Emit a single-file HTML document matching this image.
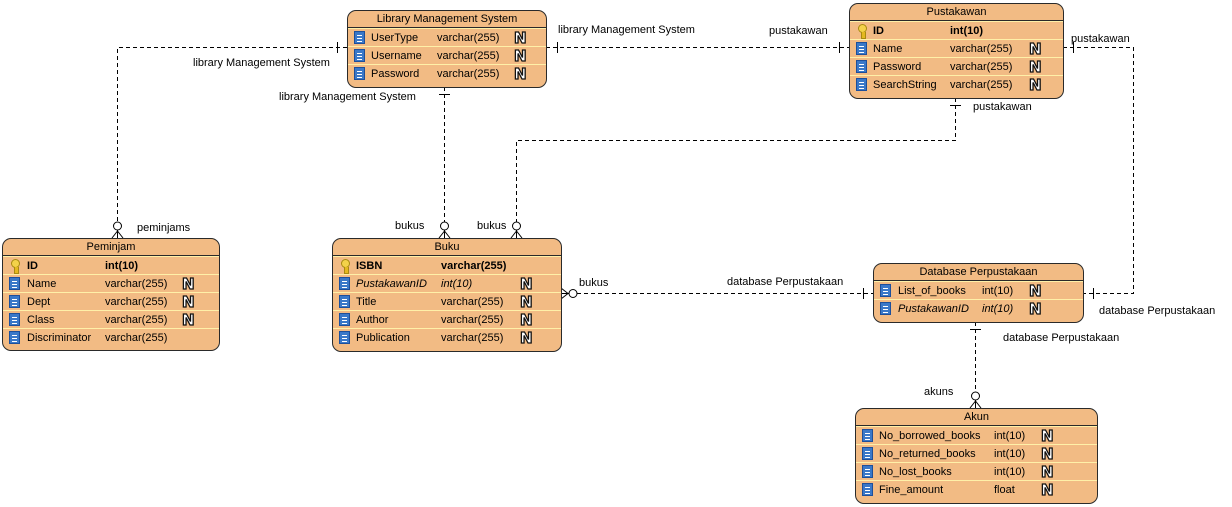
<!DOCTYPE html>
<html><head><meta charset="utf-8">
<style>
body{margin:0;width:1232px;height:507px;background:#fff;position:relative;overflow:hidden;font-family:"Liberation Sans",sans-serif;font-size:11px;color:#000}
.e{position:absolute;background:#F2BB84;border:1px solid #2a2a2a;border-radius:9px;box-sizing:border-box;overflow:hidden}
.h{height:16px;line-height:16px;text-align:center;border-bottom:1px solid #2a2a2a;font-size:11px}
.r{position:relative;height:18px;line-height:18px;border-top:1px solid #FFF0A8;box-sizing:border-box}
.r:first-of-type{border-top:none}
.r span{position:absolute;top:0;white-space:nowrap}
.ic{position:absolute;left:6px;top:2px;width:11px;height:13px;background:#3a78c8;border:1px solid #1e4f9a;box-sizing:border-box}
.ic::after{content:"";position:absolute;left:2px;right:2px;top:3px;height:7px;background:repeating-linear-gradient(#fff 0 1px,transparent 1px 3px)}
.key{position:absolute;left:8px;top:2px;width:7px;height:7px;border-radius:50%;background:#f3d24a;border:1px solid #a88a10}
.key::after{content:"";position:absolute;left:2px;top:7px;width:3px;height:6px;background:#e4b820;border:1px solid #a88a10;border-top:none}
.n{position:absolute;font-weight:bold;font-size:15px;line-height:18px;color:#fff;-webkit-text-stroke:1.3px #111;top:0;font-family:"DejaVu Sans",sans-serif}
.b{font-weight:bold}.i{font-style:italic}
.lbl{position:absolute;font-size:11px;white-space:nowrap}
</style></head><body>
<svg width="1232" height="507" style="position:absolute;left:0;top:0">
<g stroke="#000" stroke-width="1" fill="none" stroke-dasharray="4,3">
<path d="M347 47.5 H117.5 V222"/>
<path d="M444.5 87 V222"/>
<path d="M546 47.5 H849"/>
<path d="M955.5 98 V140.5 H516.5 V222"/>
<path d="M1063 47.5 H1133.5 V293.5 H1083"/>
<path d="M577 293.5 H873"/>
<path d="M975.5 322 V392"/>
</g>
<g stroke="#000" stroke-width="1" fill="#fff">
<path d="M337.5 42V53 M439 94.5H450 M557.5 42V53 M839.5 42V53 M950 105.5H961 M1073.5 42V53 M1093.5 288V299 M863.5 288V299 M970 329.5H981" fill="none"/>
<circle cx="117.5" cy="226" r="4"/><path d="M117.5 230V238 M117.5 231L112 238 M117.5 231L123 238" fill="none"/>
<circle cx="444.5" cy="226" r="4"/><path d="M444.5 230V238 M444.5 231L439 238 M444.5 231L450 238" fill="none"/>
<circle cx="516.5" cy="226" r="4"/><path d="M516.5 230V238 M516.5 231L511 238 M516.5 231L522 238" fill="none"/>
<circle cx="573" cy="293.5" r="4"/><path d="M569 293.5H561 M568 293.5L561 288 M568 293.5L561 299" fill="none"/>
<circle cx="975.5" cy="396" r="4"/><path d="M975.5 400V408 M975.5 401L970 408 M975.5 401L981 408" fill="none"/>
</g>
</svg>
<div class="lbl" style="left:193px;top:57px">library Management System</div>
<div class="lbl" style="left:279px;top:91px">library Management System</div>
<div class="lbl" style="left:558px;top:24px">library Management System</div>
<div class="lbl" style="left:769px;top:25px">pustakawan</div>
<div class="lbl" style="left:1071px;top:33px">pustakawan</div>
<div class="lbl" style="left:973px;top:101px">pustakawan</div>
<div class="lbl" style="left:137px;top:222px">peminjams</div>
<div class="lbl" style="left:395px;top:220px">bukus</div>
<div class="lbl" style="left:477px;top:220px">bukus</div>
<div class="lbl" style="left:579px;top:277px">bukus</div>
<div class="lbl" style="left:727px;top:276px">database Perpustakaan</div>
<div class="lbl" style="left:1099px;top:305px">database Perpustakaan</div>
<div class="lbl" style="left:1003px;top:332px">database Perpustakaan</div>
<div class="lbl" style="left:924px;top:386px">akuns</div>

<div class="e" style="left:347px;top:10px;width:200px;height:78px">
<div class="h">Library Management System</div>
<div class="r"><i class="ic"></i><span style="left:23px">UserType</span><span style="left:89px">varchar(255)</span><span class="n" style="left:166px">N</span></div>
<div class="r"><i class="ic"></i><span style="left:23px">Username</span><span style="left:89px">varchar(255)</span><span class="n" style="left:166px">N</span></div>
<div class="r"><i class="ic"></i><span style="left:23px">Password</span><span style="left:89px">varchar(255)</span><span class="n" style="left:166px">N</span></div>
</div>

<div class="e" style="left:849px;top:3px;width:215px;height:96px">
<div class="h">Pustakawan</div>
<div class="r"><i class="key"></i><span class="b" style="left:23px">ID</span><span class="b" style="left:100px">int(10)</span></div>
<div class="r"><i class="ic"></i><span style="left:23px">Name</span><span style="left:100px">varchar(255)</span><span class="n" style="left:179px">N</span></div>
<div class="r"><i class="ic"></i><span style="left:23px">Password</span><span style="left:100px">varchar(255)</span><span class="n" style="left:179px">N</span></div>
<div class="r"><i class="ic"></i><span style="left:23px">SearchString</span><span style="left:100px">varchar(255)</span><span class="n" style="left:179px">N</span></div>
</div>

<div class="e" style="left:2px;top:238px;width:218px;height:113px">
<div class="h">Peminjam</div>
<div class="r"><i class="key"></i><span class="b" style="left:24px">ID</span><span class="b" style="left:102px">int(10)</span></div>
<div class="r"><i class="ic"></i><span style="left:24px">Name</span><span style="left:102px">varchar(255)</span><span class="n" style="left:179px">N</span></div>
<div class="r"><i class="ic"></i><span style="left:24px">Dept</span><span style="left:102px">varchar(255)</span><span class="n" style="left:179px">N</span></div>
<div class="r"><i class="ic"></i><span style="left:24px">Class</span><span style="left:102px">varchar(255)</span><span class="n" style="left:179px">N</span></div>
<div class="r"><i class="ic"></i><span style="left:24px">Discriminator</span><span style="left:102px">varchar(255)</span></div>
</div>

<div class="e" style="left:332px;top:238px;width:230px;height:114px">
<div class="h">Buku</div>
<div class="r"><i class="key"></i><span class="b" style="left:23px">ISBN</span><span class="b" style="left:108px">varchar(255)</span></div>
<div class="r"><i class="ic"></i><span class="i" style="left:23px">PustakawanID</span><span class="i" style="left:108px">int(10)</span><span class="n" style="left:187px">N</span></div>
<div class="r"><i class="ic"></i><span style="left:23px">Title</span><span style="left:108px">varchar(255)</span><span class="n" style="left:187px">N</span></div>
<div class="r"><i class="ic"></i><span style="left:23px">Author</span><span style="left:108px">varchar(255)</span><span class="n" style="left:187px">N</span></div>
<div class="r"><i class="ic"></i><span style="left:23px">Publication</span><span style="left:108px">varchar(255)</span><span class="n" style="left:187px">N</span></div>
</div>

<div class="e" style="left:873px;top:263px;width:211px;height:60px">
<div class="h">Database Perpustakaan</div>
<div class="r"><i class="ic"></i><span style="left:24px">List_of_books</span><span style="left:108px">int(10)</span><span class="n" style="left:155px">N</span></div>
<div class="r"><i class="ic"></i><span class="i" style="left:24px">PustakawanID</span><span class="i" style="left:108px">int(10)</span><span class="n" style="left:155px">N</span></div>
</div>

<div class="e" style="left:855px;top:408px;width:243px;height:96px">
<div class="h">Akun</div>
<div class="r"><i class="ic"></i><span style="left:23px">No_borrowed_books</span><span style="left:138px">int(10)</span><span class="n" style="left:185px">N</span></div>
<div class="r"><i class="ic"></i><span style="left:23px">No_returned_books</span><span style="left:138px">int(10)</span><span class="n" style="left:185px">N</span></div>
<div class="r"><i class="ic"></i><span style="left:23px">No_lost_books</span><span style="left:138px">int(10)</span><span class="n" style="left:185px">N</span></div>
<div class="r"><i class="ic"></i><span style="left:23px">Fine_amount</span><span style="left:138px">float</span><span class="n" style="left:185px">N</span></div>
</div>
</body></html>
